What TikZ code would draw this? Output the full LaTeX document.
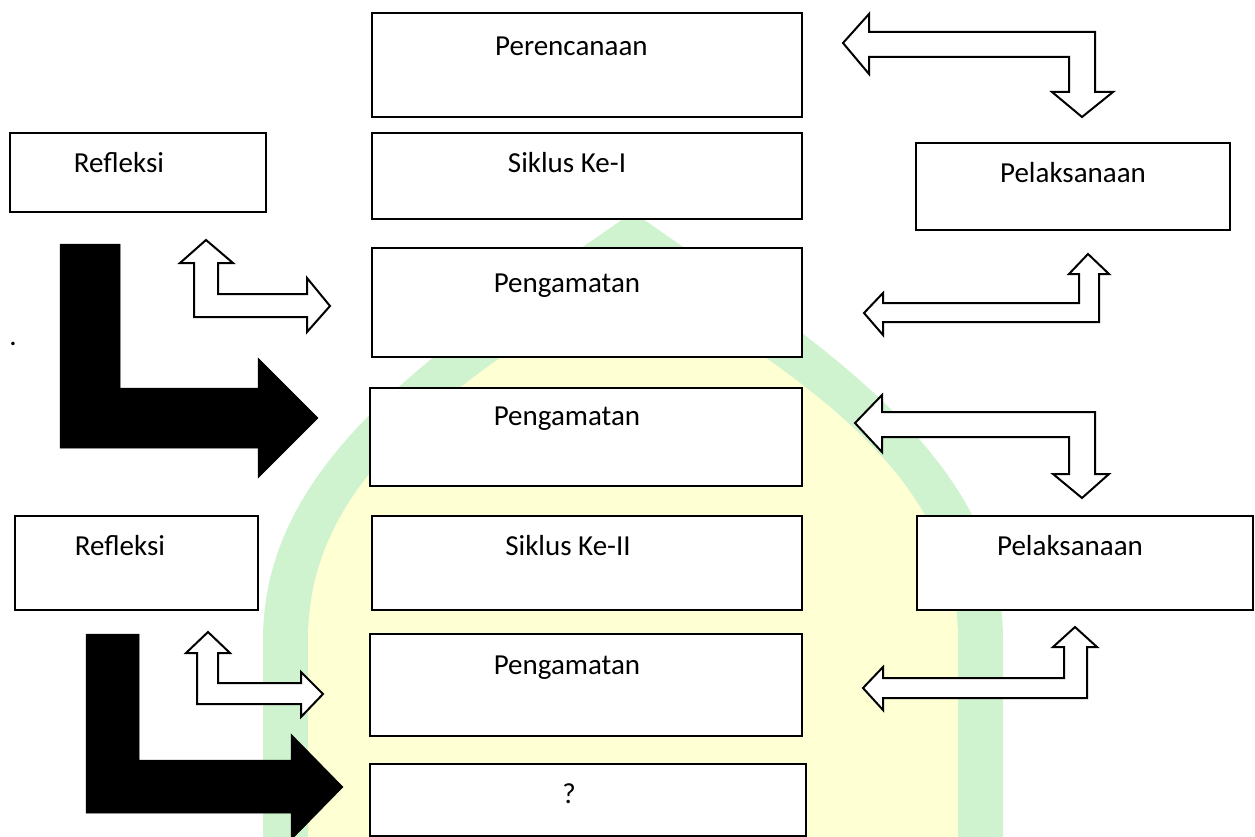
\documentclass[tikz,border=0pt]{standalone}
\usepackage{fontspec}
\setmainfont{Carlito}
\definecolor{wmgreen}{RGB}{206,243,206}
\definecolor{wmyellow}{RGB}{255,255,212}
\begin{document}
\begin{tikzpicture}[x=1pt,y=-1pt,
  box/.style={draw, line width=2.6pt, fill=white, inner sep=0pt, rectangle},
  txt/.style={font=\fontsize{29}{34}\selectfont, anchor=base, inner sep=0pt},
  harrow/.style={draw, line width=2pt, fill=white, line join=miter},
  barrow/.style={fill=black, draw=black, line width=0.5pt}]
\useasboundingbox (0,0) rectangle (1255,837);
\begin{scope}
\clip (0,0) rectangle (1255,837);
% watermark
\fill[wmgreen] (263,840) -- (263,640) .. controls (263,460) and (436,350) .. (633,212)
  .. controls (830,350) and (1003,460) .. (1003,640) -- (1003,840) -- cycle;
\fill[wmyellow] (308,840) -- (308,640) .. controls (308,470) and (466,380) .. (633,268)
  .. controls (800,380) and (958,470) .. (958,640) -- (958,840) -- cycle;

% boxes
\node[box, minimum width=430pt, minimum height=104pt] (perenc) at (587,65) {};
\node[box, minimum width=430pt, minimum height=86pt] (sik1) at (587,176) {};
\node[box, minimum width=256pt, minimum height=79pt] (refl1) at (138,172.5) {};
\node[box, minimum width=314pt, minimum height=87pt] (pel1) at (1073,186.5) {};
\node[box, minimum width=430pt, minimum height=109pt] (peng1) at (587,302.5) {};
\node[box, minimum width=432pt, minimum height=98pt] (peng2) at (586,437) {};
\node[box, minimum width=243pt, minimum height=94pt] (refl2) at (136.5,563) {};
\node[box, minimum width=430pt, minimum height=94pt] (sik2) at (587,563) {};
\node[box, minimum width=336pt, minimum height=94pt] (pel2) at (1085,563) {};
\node[box, minimum width=432pt, minimum height=102pt] (peng3) at (586,685) {};
\node[box, minimum width=436pt, minimum height=72pt] (q) at (588,800) {};

% texts
\node[txt, anchor=base west] (tperenc) at (495,56) {Perencanaan};
\node[txt] (tsik1) at (567,173) {Siklus Ke-I};
\node[txt] (trefl1) at (119,173) {Refleksi};
\node[txt] (tpel1) at (1073,183) {Pelaksanaan};
\node[txt] (tpeng1) at (567,292) {Pengamatan};
\node[txt] (tpeng2) at (567,425) {Pengamatan};
\node[txt] (trefl2) at (120,555) {Refleksi};
\node[txt] (tsik2) at (568,555) {Siklus Ke-II};
\node[txt] (tpel2) at (1070,555) {Pelaksanaan};
\node[txt] (tpeng3) at (567,674) {Pengamatan};
\node[txt] (tq) at (569,803) {?};
\node[txt] (dot) at (13,345) {.};

% hollow arrows
\draw[harrow] (843,43) -- (869,14) -- (869,32) -- (1095,32) -- (1095,92) -- (1113,92)
  -- (1082,117) -- (1052,92) -- (1069,92) -- (1069,57) -- (869,57) -- (869,74) -- cycle;
\draw[harrow] (206,240) -- (233,263) -- (218,263) -- (218,294) -- (307,294) -- (307,278)
  -- (330,306) -- (307,332) -- (307,317) -- (194,317) -- (194,263) -- (180,263) -- cycle;
\draw[harrow] (864,313) -- (883,293) -- (883,303) -- (1079,303) -- (1079,274) -- (1069,274)
  -- (1088,254) -- (1109,274) -- (1099,274) -- (1099,322) -- (883,322) -- (883,335) -- cycle;
\draw[harrow] (855,423) -- (882,395) -- (882,412) -- (1095,412) -- (1095,474) -- (1109,474)
  -- (1082,498) -- (1053,474) -- (1069,474) -- (1069,437) -- (882,437) -- (882,452) -- cycle;
\draw[harrow] (208,632) -- (230,653) -- (218,653) -- (218,683) -- (301,683) -- (301,672)
  -- (323,694) -- (301,717) -- (301,704) -- (197,704) -- (197,653) -- (186,653) -- cycle;
\draw[harrow] (863,688) -- (883,667) -- (883,678) -- (1064,678) -- (1064,647) -- (1053,647)
  -- (1075,627) -- (1097,647) -- (1087,647) -- (1087,698) -- (883,698) -- (883,710) -- cycle;

% black arrows
\draw[barrow] (60,244) -- (120,244) -- (120,388) -- (258,388) -- (258,358) -- (318,418)
  -- (258,478) -- (258,448) -- (60,448) -- cycle;
\draw[barrow] (86,634) -- (139,634) -- (139,760) -- (291,760) -- (291,734) -- (343,787)
  -- (291,840) -- (291,813) -- (86,813) -- cycle;
\end{scope}
\end{tikzpicture}
\end{document}
